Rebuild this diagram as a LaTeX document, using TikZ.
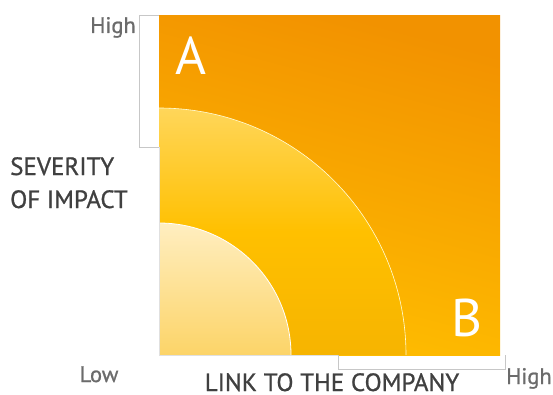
\documentclass[tikz,border=0pt]{standalone}
\usepackage{fontspec}
\setmainfont{PT Sans}
\newfontfamily\labelfont[FakeBold=0.9]{PT Sans}
\begin{document}
\begin{tikzpicture}[x=1pt,y=1pt,
  axislabel/.style={text=black!75, font=\labelfont\fontsize{25}{33}\selectfont, align=left, inner sep=0pt},
  endlabel/.style={text=black!58, font=\labelfont\fontsize{22.5}{26}\selectfont, inner sep=0pt},
  zone/.style={text=white, font=\fontsize{53}{56}\selectfont, inner sep=0pt},
  bracket/.style={draw=black!22, line width=0.7pt}]
\useasboundingbox (0,0) rectangle (553,394);
% outer field
\shade[top color={rgb,255:red,242;green,146;blue,0}, bottom color={rgb,255:red,255;green,190;blue,0}, shading angle=-15]
  (159,39) rectangle (500,378);
% middle quarter disc
\shade[top color={rgb,255:red,255;green,214;blue,90}, bottom color={rgb,255:red,246;green,180;blue,0},
  middle color={rgb,255:red,255;green,192;blue,0}]
  (159,39) -- (159,286) arc[start angle=90, end angle=0, radius=247] -- cycle;
\draw[white!85!yellow, line width=0.6pt] (159,286) arc[start angle=90, end angle=0, radius=247];
% inner quarter disc
\shade[top color={rgb,255:red,255;green,238;blue,192}, bottom color={rgb,255:red,252;green,212;blue,104}]
  (159,39) -- (159,171) arc[start angle=90, end angle=0, radius=132] -- cycle;
\draw[white, line width=0.8pt] (159,171) arc[start angle=90, end angle=0, radius=132];
% axis edges
\draw[black!12, line width=0.6pt] (159,247) -- (159,39) -- (338,39);
% scale brackets
\draw[bracket] (159,379) -- (139,379) -- (139,247) -- (159,247);
\draw[bracket] (338,39) -- (338,25) -- (505,25) -- (505,39);
% zone letters
\node[zone] (zonea) at (191,338) {A};
\node[zone] (zoneb) at (467,76) {B};
% axis labels
\node[axislabel, anchor=north west] (sev) at (10,237) {SEVERITY\\OF IMPACT};
\node[axislabel, anchor=base] (link) at (332,3) {LINK TO THE COMPANY};
\node[endlabel, anchor=base east] (yhigh) at (136,361) {High};
\node[endlabel, anchor=base] (xlow) at (99,12) {Low};
\node[endlabel, anchor=base west] (xhigh) at (506,10) {High};
\end{tikzpicture}
\end{document}
